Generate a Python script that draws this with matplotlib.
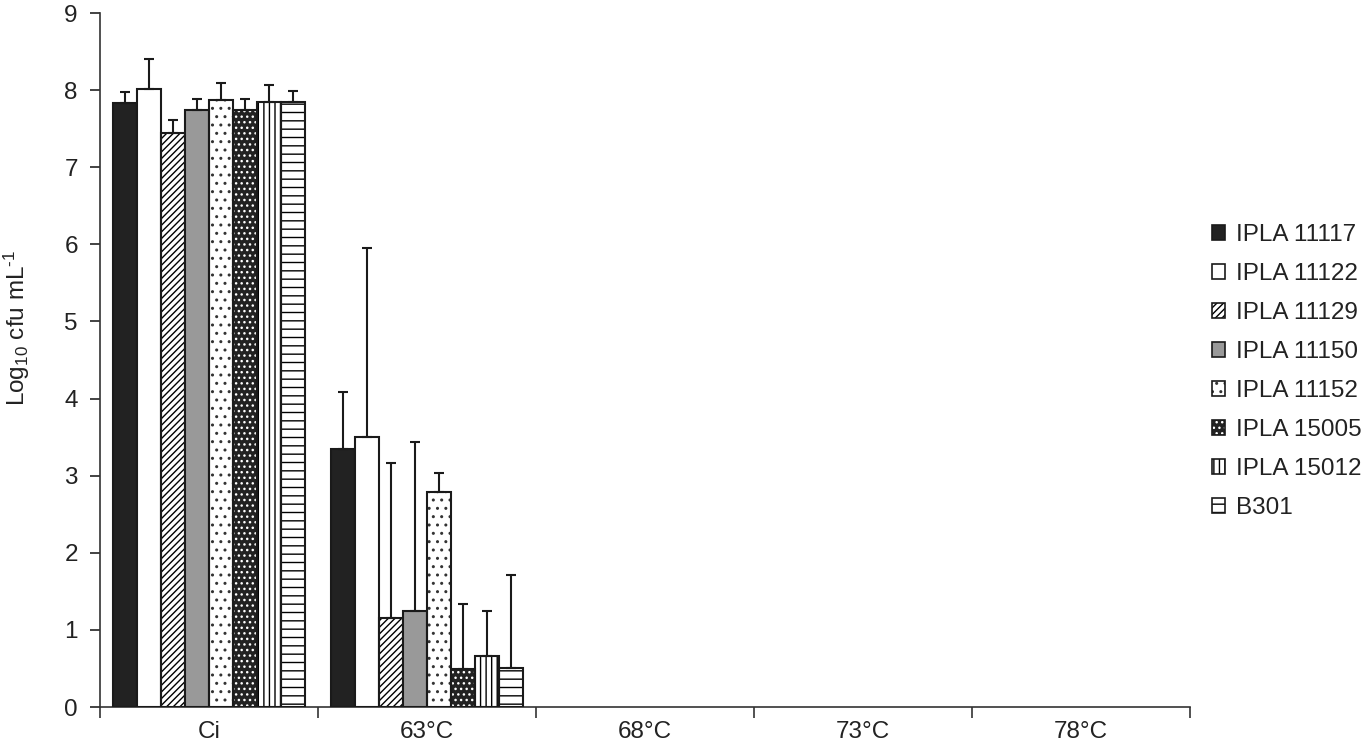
import matplotlib
matplotlib.use("Agg")
import matplotlib.pyplot as plt
import numpy as np
from matplotlib.patches import Patch
from matplotlib.legend_handler import HandlerTuple

plt.rcParams['font.family'] = ['Liberation Sans', 'DejaVu Sans']
plt.rcParams['mathtext.fontset'] = 'custom'
plt.rcParams['mathtext.rm'] = 'Liberation Sans'
plt.rcParams['mathtext.it'] = 'Liberation Sans:italic'
plt.rcParams['mathtext.bf'] = 'Liberation Sans:bold'
plt.rcParams['hatch.linewidth'] = 1.0

categories = ['Ci', '63°C', '68°C', '73°C', '78°C']
strains = ['IPLA 11117', 'IPLA 11122', 'IPLA 11129', 'IPLA 11150',
           'IPLA 11152', 'IPLA 15005', 'IPLA 15012', 'B301']

# mean values (log10 cfu/mL) per strain, per category
ipla11117 = [7.83, 3.35, 0, 0, 0]
ipla11122 = [8.02, 3.50, 0, 0, 0]
ipla11129 = [7.45, 1.16, 0, 0, 0]
ipla11150 = [7.74, 1.25, 0, 0, 0]
ipla11152 = [7.87, 2.79, 0, 0, 0]
ipla15005 = [7.74, 0.49, 0, 0, 0]
ipla15012 = [7.84, 0.66, 0, 0, 0]
b301      = [7.84, 0.50, 0, 0, 0]

# upper error (SD)
err11117 = [0.15, 0.74, 0, 0, 0]
err11122 = [0.38, 2.45, 0, 0, 0]
err11129 = [0.16, 2.01, 0, 0, 0]
err11150 = [0.14, 2.19, 0, 0, 0]
err11152 = [0.22, 0.25, 0, 0, 0]
err15005 = [0.14, 0.85, 0, 0, 0]
err15012 = [0.23, 0.58, 0, 0, 0]
errb301  = [0.15, 1.21, 0, 0, 0]

values = [ipla11117, ipla11122, ipla11129, ipla11150, ipla11152, ipla15005, ipla15012, b301]
errors = [err11117, err11122, err11129, err11150, err11152, err15005, err15012, errb301]

# style: (facecolor, hatch colour, hatch)
styles = [
    ('#222222', None, None),
    ('white', None, None),
    ('white', 'black', '/////'),
    ('#999999', None, None),
    ('white', '#333333', '..'),
    ('#222222', 'white', '...'),
    ('white', 'black', '|||'),
    ('white', 'black', '--'),
]

FS = 17.5
EC = '#1a1a1a'

fig = plt.figure(figsize=(13.63, 7.48), dpi=100)
ax = fig.add_axes([100/1363, 41/748, 1090/1363, 694/748])

n = len(strains)
width = 0.11
x = np.arange(len(categories))
handles = []
for i, (vals, errs, (fc, hc, hatch)) in enumerate(zip(values, errors, styles)):
    pos = x + (i - (n - 1) / 2) * width
    vals = np.array(vals)
    errs = np.array(errs)
    m = vals > 0
    if hatch is not None:
        ax.bar(pos[m], vals[m], width, color=fc, edgecolor=hc, hatch=hatch, linewidth=0, zorder=2)
        ax.bar(pos[m], vals[m], width, facecolor='none', edgecolor=EC, linewidth=1.5, zorder=3)
        p1 = Patch(facecolor=fc, edgecolor=hc, hatch=hatch, linewidth=0)
        p2 = Patch(facecolor='none', edgecolor=EC, linewidth=1.2)
        handles.append((p1, p2))
    else:
        ax.bar(pos[m], vals[m], width, color=fc, edgecolor=EC, linewidth=1.5, zorder=3)
        handles.append(Patch(facecolor=fc, edgecolor=EC, linewidth=1.2))
    ax.errorbar(pos[m], vals[m], yerr=[np.zeros(m.sum()), errs[m]], fmt='none',
                ecolor=EC, elinewidth=1.5, capsize=3.5, capthick=1.5, zorder=4)

ax.set_xlim(-0.5, len(categories) - 0.5)
ax.set_ylim(0, 9)
ax.set_yticks(range(0, 10))
ax.set_xticks(x)
ax.set_xticklabels(categories)
ax.set_xticks(np.arange(-0.5, len(categories)), minor=True)
ax.tick_params(axis='x', which='major', length=0, pad=10, labelsize=FS, colors='#222222')
ax.tick_params(axis='x', which='minor', length=8, width=1.2, direction='out', color='#333333')
ax.tick_params(axis='y', length=7, width=1.2, direction='out', pad=9, labelsize=FS, colors='#222222')
for s in ['top', 'right']:
    ax.spines[s].set_visible(False)
for s in ['left', 'bottom']:
    ax.spines[s].set_color('#333333')
    ax.spines[s].set_linewidth(1.2)

fig.text(17/1363, 1 - 328/748, r'Log$_{10}$ cfu mL$^{\text{-1}}$', rotation=90, ha='center', va='center',
         fontsize=FS, color='#222222')

leg = fig.legend(handles, strains, loc='upper left', bbox_to_anchor=(1212/1363, 1 - 224/748),
                 frameon=False, fontsize=FS, handlelength=0.55, handleheight=0.55,
                 handletextpad=0.45, labelspacing=0.70, borderaxespad=0, borderpad=0,
                 handler_map={tuple: HandlerTuple(ndivide=1)})
for t in leg.get_texts():
    t.set_color('#222222')

fig.savefig('out.png', dpi=100)
